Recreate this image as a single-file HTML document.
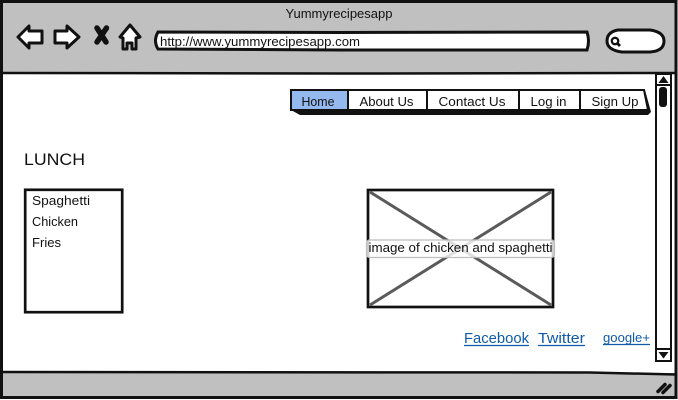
<!DOCTYPE html>
<html lang="en">
<head>
<meta charset="utf-8">
<title>Yummyrecipesapp wireframe</title>
<style>
html,body{margin:0;padding:0;background:#fff;width:678px;height:400px;overflow:hidden}
svg{display:block}
text{font-family:"Liberation Sans",sans-serif;fill:#111}
a text{fill:#0f5ba8}
</style>
</head>
<body>
<svg width="678" height="400" viewBox="0 0 678 400" xmlns="http://www.w3.org/2000/svg">
  <rect x="0" y="0" width="678" height="400" fill="#fff"/>
  <rect x="2" y="2" width="674" height="71" fill="#c0c0c0"/>
  <rect x="2" y="373" width="674" height="24" fill="#c0c0c0"/>
  <path d="M1.5 1.5H676V397.500H1.5Z" fill="none" stroke="#111" stroke-width="3"/>
  <path d="M2 73 L340 73.500 L676 73" fill="none" stroke="#111" stroke-width="2.500"/>
  <path d="M2 372 L590 372.500 L676 374.500" fill="none" stroke="#111" stroke-width="2.500"/>

  <text x="339" y="18" font-size="13" text-anchor="middle" textLength="107" lengthAdjust="spacingAndGlyphs">Yummyrecipesapp</text>

  <path d="M18 37 L29 26 L29 31 L42 31 L42 43 L29 43 L29 48 Z" fill="#fff" stroke="#111" stroke-width="3" stroke-linejoin="round"/>
  <path d="M79 37 L67 26 L67 31 L55 31 L55 43 L67 43 L67 48 Z" fill="#fff" stroke="#111" stroke-width="3" stroke-linejoin="round"/>
  <path d="M97 28 L106 42 M106.500 28 L97 42" fill="none" stroke="#111" stroke-width="5.500" stroke-linecap="round"/>
  <path d="M130 25 L140 37 L136 38 L136 49 L132 49 L132 43 L127 43 L127 49 L123 49 L123 38 L120 37 Z" fill="#fff" stroke="#111" stroke-width="3" stroke-linejoin="round"/>

  <path d="M158 32 L340 32.500 L587 32 Q590 41 587 50 L340 50 L158 49 Q153 41 158 32 Z" fill="#fff" stroke="#111" stroke-width="3"/>
  <text x="160" y="46" font-size="13" textLength="200" lengthAdjust="spacingAndGlyphs">http://www.yummyrecipesapp.com</text>

  <path d="M618 30 L650 30 Q664 32 664 41 Q664 51 650 52 L622 52 Q607 50 607 41 Q607 32 618 30 Z" fill="#fff" stroke="#111" stroke-width="3"/>
  <circle cx="615" cy="41" r="3.200" fill="none" stroke="#111" stroke-width="2.300"/>
  <path d="M617.500 43.500 L620 46" stroke="#111" stroke-width="2.800"/>

  <path d="M291 92 L645 90 L651 112 L648 115 L300 115 L291 110 Z" fill="#111"/>
  <path d="M291 90 L644 90 L648 110 L291 110 Z" fill="#fff" stroke="#111" stroke-width="2"/>
  <rect x="292" y="91" width="56" height="18" fill="#94b9ee"/>
  <path d="M348 90V110M427 90V110M519 90V110M580 90V110" stroke="#111" stroke-width="2" fill="none"/>
  <text x="318" y="106" font-size="13" text-anchor="middle" textLength="33" lengthAdjust="spacingAndGlyphs">Home</text>
  <text x="386.500" y="106" font-size="13" text-anchor="middle" textLength="54" lengthAdjust="spacingAndGlyphs">About Us</text>
  <text x="472" y="106" font-size="13" text-anchor="middle" textLength="67" lengthAdjust="spacingAndGlyphs">Contact Us</text>
  <text x="548.500" y="106" font-size="13" text-anchor="middle" textLength="36" lengthAdjust="spacingAndGlyphs">Log in</text>
  <text x="615" y="106" font-size="13" text-anchor="middle" textLength="47" lengthAdjust="spacingAndGlyphs">Sign Up</text>

  <rect x="656" y="74" width="15" height="287" fill="#fff" stroke="#111" stroke-width="2"/>
  <path d="M656 85H671M656 349H671" stroke="#111" stroke-width="2" fill="none"/>
  <path d="M663.500 76 L668.500 83 L658.500 83 Z" fill="#111"/>
  <path d="M658.500 352 L668.500 352 L663.500 358.500 Z" fill="#111"/>
  <rect x="659" y="87" width="8" height="20" rx="3" fill="#111"/>

  <text x="24" y="165" font-size="17" textLength="61" lengthAdjust="spacingAndGlyphs">LUNCH</text>

  <rect x="25.200" y="189.800" width="97" height="122.400" fill="#fff" stroke="#111" stroke-width="2.700"/>
  <text x="32" y="205" font-size="13" textLength="58" lengthAdjust="spacingAndGlyphs">Spaghetti</text>
  <text x="32" y="226" font-size="13" textLength="46" lengthAdjust="spacingAndGlyphs">Chicken</text>
  <text x="32" y="247" font-size="13" textLength="29" lengthAdjust="spacingAndGlyphs">Fries</text>

  <rect x="368" y="190" width="185" height="117" fill="#fff" stroke="#111" stroke-width="2.700"/>
  <path d="M370 192 L551 305 M551 192 L370 305" stroke="#5a5a5a" stroke-width="3" fill="none"/>
  <rect x="366.500" y="240" width="188" height="17.500" rx="3" fill="#fff" fill-opacity=".8" stroke="#bdbdbd" stroke-width="1.200"/>
  <text x="368.500" y="252" font-size="13" textLength="184" lengthAdjust="spacingAndGlyphs">image of chicken and spaghetti</text>

  <a>
    <text x="464" y="343" font-size="15" textLength="65" lengthAdjust="spacingAndGlyphs">Facebook</text>
  </a>
  <path d="M464 345.500H529" stroke="#0f5ba8" stroke-width="1.300"/>
  <a>
    <text x="538" y="343" font-size="15" textLength="47" lengthAdjust="spacingAndGlyphs">Twitter</text>
  </a>
  <path d="M538 345.500H585" stroke="#0f5ba8" stroke-width="1.300"/>
  <a>
    <text x="603" y="342" font-size="13" textLength="47" lengthAdjust="spacingAndGlyphs">google+</text>
  </a>
  <path d="M603 344.500H650" stroke="#0f5ba8" stroke-width="1.200"/>

  <path d="M658 391.500 L665 384.500 M663 392.500 L670 385.500" stroke="#111" stroke-width="3.500" stroke-linecap="round" fill="none"/>
</svg>
</body>
</html>
